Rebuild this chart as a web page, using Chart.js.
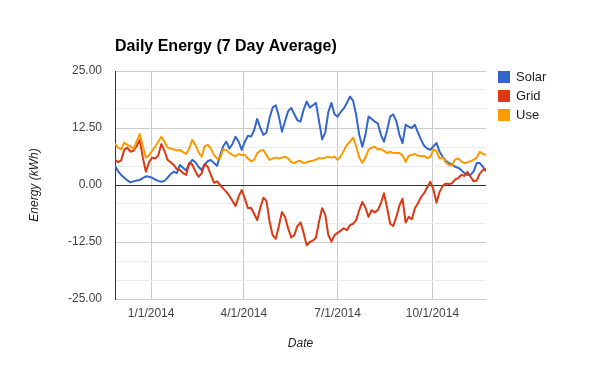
<!DOCTYPE html>
<html>
<head>
<meta charset="utf-8">
<script src="https://cdn.jsdelivr.net/npm/chart.js@4.4.1/dist/chart.umd.min.js"></script>
<style>
  body { margin: 0; background: #fff; }
  #wrap { width: 600px; height: 371px; }
</style>
</head>
<body>
<div id="wrap"><canvas id="energyChart" width="600" height="371"></canvas></div>
<script>
// days since 11/27/2013, one sample every 3 days
const days = [0, 3, 6, 9, 12, 15, 18, 21, 24, 27, 30, 33, 36, 39, 42, 45, 48, 51, 54, 57,
  60, 63, 66, 69, 72, 75, 78, 81, 84, 87, 90, 93, 96, 99, 102, 105, 108, 111, 114, 117,
  120, 123, 126, 129, 132, 135, 138, 141, 144, 147, 150, 153, 156, 159, 162, 165, 168, 171, 174, 177,
  180, 183, 186, 189, 192, 195, 198, 201, 204, 207, 210, 213, 216, 219, 222, 225, 228, 231, 234, 237,
  240, 243, 246, 249, 252, 255, 258, 261, 264, 267, 270, 273, 276, 279, 282, 285, 288, 291, 294, 297,
  300, 303, 306, 309, 312, 315, 318, 321, 324, 327, 330, 333, 336, 339, 342, 345, 348, 351, 354, 357, 360];

const solar = [4.2, 3.0, 2.2, 1.6, 1.0, 0.6, 0.8, 1.0, 1.1, 1.5,
  1.9, 1.8, 1.6, 1.2, 0.9, 0.7, 0.9, 1.6, 2.4, 2.9,
  2.6, 4.4, 3.8, 3.2, 4.6, 5.5, 5.0, 4.0, 3.3, 4.5,
  5.2, 5.5, 4.8, 4.2, 6.5, 8.5, 9.5, 8.0, 9.0, 10.6,
  9.5, 7.7, 9.5, 10.8, 10.6, 12.0, 14.5, 12.5, 11.0, 11.5,
  14.7, 17.0, 17.5, 15.0, 11.7, 14.0, 16.2, 16.9, 15.5, 14.2,
  13.9, 16.5, 18.3, 17.0, 17.5, 18.0, 14.0, 10.0, 11.5, 16.0,
  18.0, 15.5, 15.0, 16.0, 16.8, 18.0, 19.4, 18.5, 15.4, 11.0,
  8.4, 11.0, 15.0, 14.5, 13.9, 13.5, 11.0, 9.5, 12.0, 15.0,
  15.5, 14.0, 11.0, 9.2, 13.2, 12.8, 12.5, 13.2, 11.5, 9.9,
  8.6, 8.0, 7.7, 8.5, 9.2, 7.3, 6.2, 5.3, 4.8, 4.5,
  4.0, 3.8, 3.3, 2.6, 2.2, 2.2, 3.0, 4.8, 4.8, 4.0, 3.0];

const grid = [5.6, 5.0, 5.4, 7.7, 8.2, 7.3, 7.5, 8.5, 9.9, 6.0,
  2.9, 5.0, 6.0, 5.8, 6.5, 9.0, 7.5, 5.5, 5.0, 4.4,
  3.5, 3.3, 2.6, 2.2, 4.8, 4.5, 3.0, 1.8, 2.5, 4.6,
  4.0, 2.2, 0.5, 0.8, 0.0, -0.8, -1.5, -2.4, -3.5, -4.6,
  -2.5, -1.1, -3.0, -5.1, -5.0, -6.3, -7.7, -5.0, -2.8, -3.5,
  -8.0, -11.0, -11.8, -9.0, -5.9, -7.0, -9.5, -11.5, -11.0, -9.0,
  -8.2, -10.5, -13.2, -12.5, -12.2, -11.5, -8.0, -5.1, -6.5, -11.0,
  -12.4, -11.0, -10.5, -10.0, -9.5, -9.9, -8.8, -8.5, -7.7, -5.5,
  -3.7, -5.0, -7.0, -5.5, -6.0, -5.5, -4.0, -1.8, -5.0, -8.5,
  -9.0, -7.0, -4.5, -3.0, -8.2, -7.0, -7.5, -5.1, -4.0, -2.6,
  -1.8, -0.5, 0.7, -1.0, -3.9, -1.5, -0.2, 0.3, 0.2, 0.4,
  1.2, 1.5, 2.2, 2.0, 2.9, 1.8, 0.8, 1.0, 2.5, 3.3, 3.5];

const use = [9.1, 8.2, 7.8, 9.3, 8.8, 8.5, 7.9, 9.5, 11.2, 8.5,
  6.0, 6.5, 7.5, 8.4, 9.5, 10.6, 9.5, 8.2, 8.0, 7.8,
  7.6, 7.7, 7.2, 6.8, 8.0, 9.9, 8.8, 7.2, 6.2, 8.5,
  8.8, 8.0, 6.6, 5.8, 5.9, 7.8, 7.7, 7.0, 6.6, 6.3,
  6.8, 6.6, 6.6, 5.8, 5.2, 5.5, 7.0, 7.5, 7.7, 6.5,
  5.5, 5.8, 6.0, 5.8, 6.0, 6.2, 5.8, 5.0, 4.8, 5.2,
  5.3, 4.8, 5.0, 5.2, 5.3, 5.6, 5.9, 5.8, 6.0, 6.2,
  6.0, 6.2, 5.5, 6.3, 7.5, 8.8, 9.5, 10.4, 8.5, 6.0,
  4.9, 6.0, 7.7, 8.2, 8.4, 7.8, 7.9, 7.5, 7.0, 7.3,
  7.0, 7.0, 7.0, 6.5, 5.1, 6.4, 6.6, 6.8, 6.4, 6.3,
  6.4, 5.9, 6.2, 7.8, 7.4, 5.8, 6.0, 5.0, 4.4, 4.3,
  5.6, 5.8, 5.2, 4.8, 5.0, 5.2, 5.5, 6.0, 7.3, 6.8, 6.6];

const xTickDays = [35, 125, 216, 308];
const xTickLabels = ["1/1/2014", "4/1/2014", "7/1/2014", "10/1/2014"];
const yTickValues = [-25, -12.5, 0, 12.5, 25];

const FONT = '"Liberation Sans", Arial, sans-serif';
Chart.defaults.font.family = FONT;

const toPoints = (vals) => vals.map((v, i) => ({ x: days[i], y: v }));

// title and legend drawn by hand, google charts style
const headerLegend = {
  id: "headerLegend",
  afterDraw(chart) {
    const ctx = chart.ctx;
    ctx.save();
    ctx.fillStyle = "#000";
    ctx.font = "bold 16px " + FONT;
    ctx.textBaseline = "alphabetic";
    ctx.fillText("Daily Energy (7 Day Average)", 115, 51);
    ctx.font = "13px " + FONT;
    ctx.textBaseline = "middle";
    chart.data.datasets.forEach((ds, i) => {
      const y = 71 + i * 19;
      ctx.fillStyle = ds.borderColor;
      ctx.fillRect(498, y, 12, 12);
      ctx.fillStyle = "#222";
      ctx.fillText(ds.label, 516, y + 6.5);
    });
    ctx.restore();
  }
};

new Chart(document.getElementById("energyChart"), {
  type: "line",
  data: {
    datasets: [
      { label: "Solar", data: toPoints(solar), borderColor: "#3366cc", order: 3 },
      { label: "Grid", data: toPoints(grid), borderColor: "#dc3912", order: 2 },
      { label: "Use", data: toPoints(use), borderColor: "#ff9900", order: 1 }
    ]
  },
  options: {
    responsive: false,
    animation: false,
    events: [],
    layout: { padding: { top: 71, right: 114, bottom: 0, left: 0 } },
    elements: {
      line: { borderWidth: 2, tension: 0, fill: false, borderJoinStyle: "round" },
      point: { radius: 0 }
    },
    plugins: {
      legend: { display: false },
      title: { display: false },
      tooltip: { enabled: false }
    },
    scales: {
      x: {
        type: "linear",
        min: 0,
        max: 360,
        afterBuildTicks: (scale) => { scale.ticks = xTickDays.map(v => ({ value: v })); },
        afterFit: (scale) => { scale.height = 72; },
        ticks: {
          autoSkip: false,
          maxRotation: 0,
          padding: 7,
          color: "#444",
          font: { size: 12 },
          callback: (value) => {
            const k = xTickDays.indexOf(value);
            return k >= 0 ? xTickLabels[k] : "";
          }
        },
        grid: { color: "#cccccc", drawTicks: false },
        border: { display: false },
        title: {
          display: true,
          text: "Date",
          color: "#222",
          font: { size: 12, style: "italic" },
          padding: { top: 0, bottom: 20 }
        }
      },
      y: {
        min: -25,
        max: 25,
        afterBuildTicks: (scale) => {
          const t = [];
          yTickValues.forEach((v, k) => {
            t.push({ value: v });
            if (k < yTickValues.length - 1) {
              const step = (yTickValues[k + 1] - v) / 3;
              t.push({ value: v + step }, { value: v + 2 * step });
            }
          });
          scale.ticks = t;
        },
        afterFit: (scale) => { scale.width = 115; },
        ticks: {
          autoSkip: false,
          padding: 13,
          color: "#444",
          font: { size: 12 },
          callback: (value) => yTickValues.includes(value) ? value.toFixed(2) : ""
        },
        grid: {
          drawTicks: false,
          color: (c) => {
            const v = c.tick ? c.tick.value : null;
            if (v === 0) return "#333333";
            return yTickValues.includes(v) ? "#cccccc" : "#ebebeb";
          }
        },
        border: { display: true, color: "#333333" },
        title: {
          display: true,
          text: "Energy (kWh)",
          color: "#222",
          font: { size: 12, style: "italic" },
          padding: { top: 27, bottom: 0 }
        }
      }
    }
  },
  plugins: [headerLegend]
});
</script>
</body>
</html>
